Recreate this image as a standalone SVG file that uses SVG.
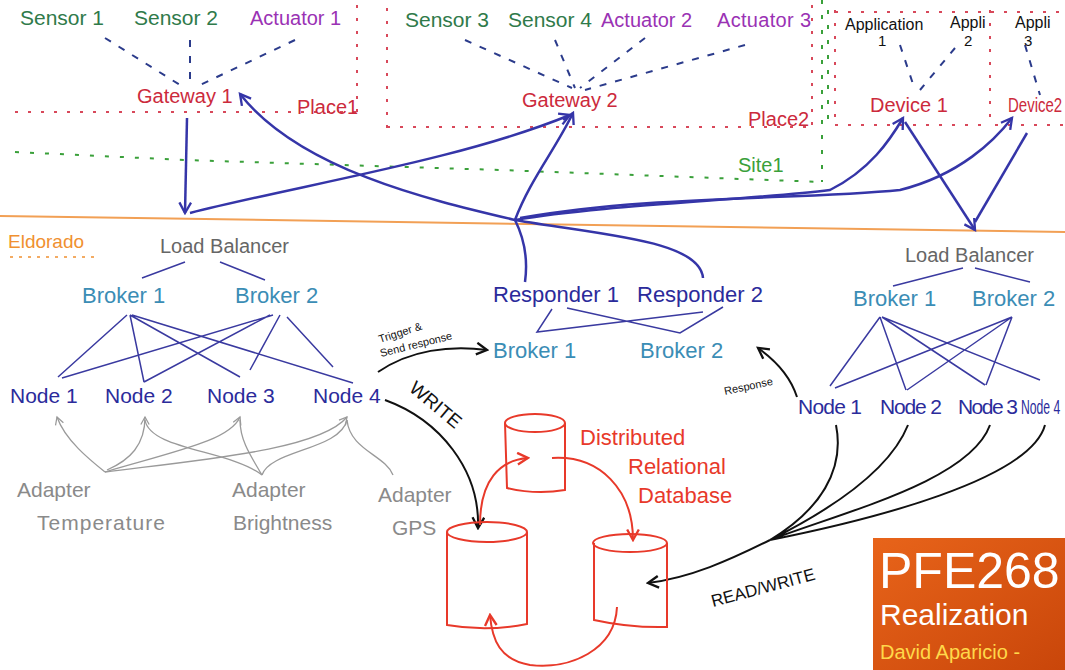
<svg xmlns="http://www.w3.org/2000/svg" width="1065" height="670" viewBox="0 0 1065 670">
<defs>
<style>
text{font-family:"Liberation Sans","DejaVu Sans",sans-serif}
.sensor{fill:#2f7a4a;font-size:21px}
.act{fill:#9a32b4;font-size:20px}
.gw{fill:#cc2a3c;font-size:20px}
.node{fill:#2b2b9b;font-size:21px}
.broker{fill:#3b8db5;font-size:22px}
.lb{fill:#666;font-size:20px}
.adp{fill:#8a8a8a;font-size:21px}
.db{fill:#e8392a;font-size:22px}
.blk{fill:#111}
.dr{stroke:#d8485a;stroke-width:2;stroke-dasharray:3 10;fill:none}
.dg{stroke:#3aa03a;stroke-width:2;stroke-dasharray:4 11;fill:none}
.db2{stroke:#2b3b8b;stroke-width:2;stroke-dasharray:7 9;fill:none}
.thin{stroke:#3a3aa0;stroke-width:1.5;fill:none}
.ba{stroke:#3535a8;stroke-width:2.5;fill:none}
.ka{stroke:#111;stroke-width:2;fill:none}
.ra{stroke:#e8392a;stroke-width:2;fill:none}
.ga{stroke:#9a9a9a;stroke-width:1.3;fill:none}
</style>
<marker id="mb" viewBox="0 0 12 12" refX="10" refY="6" markerWidth="14" markerHeight="14" markerUnits="userSpaceOnUse" orient="auto"><path d="M1,1 L10,6 L1,11" fill="none" stroke="#3535a8" stroke-width="2"/></marker>
<marker id="mk" viewBox="0 0 12 12" refX="10" refY="6" markerWidth="14" markerHeight="14" markerUnits="userSpaceOnUse" orient="auto"><path d="M1,1 L10,6 L1,11" fill="none" stroke="#111" stroke-width="2"/></marker>
<marker id="mr" viewBox="0 0 12 12" refX="10" refY="6" markerWidth="14" markerHeight="14" markerUnits="userSpaceOnUse" orient="auto"><path d="M1,1 L10,6 L1,11" fill="none" stroke="#e8392a" stroke-width="2"/></marker>
<marker id="mg" viewBox="0 0 12 12" refX="10" refY="6" markerWidth="10" markerHeight="10" markerUnits="userSpaceOnUse" orient="auto"><path d="M1,1 L10,6 L1,11" fill="none" stroke="#9a9a9a" stroke-width="1.5"/></marker>
<linearGradient id="og" x1="0" y1="0" x2="1" y2="1"><stop offset="0" stop-color="#e8641a"/><stop offset="1" stop-color="#c9460a"/></linearGradient>
</defs>
<rect width="1065" height="670" fill="#fff"/>

<g id="zones">
<path class="dr" d="M357,5 L357,115 M15,112 L357,112"/>
<path class="dr" d="M387,8 L387,128 M387,127 L812,127 M812,5 L812,127"/>
<path class="dg" d="M15,152 L185,160 L500,170 L822,182 M822,0 L822,182"/>
<path class="dr" d="M835,10 L835,125 M835,12 L1065,12 M835,125 L985,125 M990,10 L990,125 M995,125 L1065,125"/>
<path class="dg" d="M828,10 L828,120"/>
<path d="M0,216 L1065,232" stroke="#f2a055" stroke-width="2" fill="none"/>
<text x="8" y="248" fill="#f09030" font-size="19">Eldorado</text>
<path d="M10,257 L95,257" stroke="#f09030" stroke-width="1.5" stroke-dasharray="3 6"/>
<text x="297" y="114" class="gw" font-size="14">Place1</text>
<text x="748" y="126" class="gw" font-size="16">Place2</text>
<text x="738" y="172" fill="#3aa03a" font-size="20">Site1</text>
</g>

<g id="connectors">
<path class="db2" d="M105,38 L180,85 M190,40 L190,88 M295,40 L200,85"/>
<path class="db2" d="M465,40 L572,88 M555,40 L575,88 M645,38 L580,88 M745,45 L585,90"/>
<path class="db2" d="M900,45 L915,90 M955,48 L920,90 M1025,45 L1040,95"/>
<path class="ba" d="M187,118 L185,213" marker-end="url(#mb)"/>
<path class="ba" d="M190,213 C300,185 460,160 570,115" marker-end="url(#mb)"/>
<path class="ba" d="M515,220 C430,200 300,170 240,94" marker-end="url(#mb)"/>
<path class="ba" d="M515,220 C530,180 555,150 573,113" marker-end="url(#mb)"/>
<path class="ba" d="M515,220 C600,205 750,200 830,190 C870,170 890,140 903,118" marker-end="url(#mb)"/>
<path class="ba" d="M520,218 C650,195 800,200 900,190 C960,175 995,140 1012,118" marker-end="url(#mb)"/>
<path class="ba" d="M515,220 C525,240 528,260 525,282"/>
<path class="ba" d="M515,220 C600,235 700,240 703,278"/>
<path class="thin" d="M185,262 L142,278 M220,262 L265,280"/>
<path class="thin" d="M127,315 L58,377 M130,315 L144,382 M130,315 L240,377 M132,315 L353,383 M273,315 L62,378 M270,315 L144,382 M280,315 L250,370 M287,317 L333,367"/>
<path class="thin" d="M552,309 L537,332 L703,312 M567,308 L680,333 L723,307"/>
<path class="ka" d="M378,372 C410,350 450,345 487,350" marker-end="url(#mk)"/>
<path class="ka" stroke-width="3" d="M385,400 C440,420 480,470 478,528" marker-end="url(#mk)"/>
<path class="ka" d="M797,397 C790,375 775,360 758,348" marker-end="url(#mk)"/>
<path class="ba" stroke-width="2" d="M905,122 L975,230" marker-end="url(#mb)"/>
<path class="ba" stroke-width="1.5" d="M1027,133 L975,222"/>
<path class="thin" d="M963,268 L893,286 M975,268 L1030,282"/>
<path class="thin" d="M880,317 L830,386 M880,317 L906,390 M882,317 L985,385 M882,317 L1040,380 M1012,317 L835,388 M1012,317 L907,390 M1012,317 L986,385"/>
<path class="ka" stroke-width="1.6" d="M836,425 C845,470 820,510 770,540 M908,425 C890,470 830,510 770,540 M990,425 C970,480 850,510 770,540 M1045,425 C1030,480 870,520 770,540"/>
<path class="ka" d="M770,540 C730,560 690,578 648,583" marker-end="url(#mk)"/>
<path class="ra" d="M480,525 C480,480 500,460 528,458" marker-end="url(#mr)"/>
<path class="ra" d="M552,458 C600,455 633,490 633,540" marker-end="url(#mr)"/>
<path class="ra" d="M617,607 C615,650 570,670 530,665 C500,660 492,640 490,615" marker-end="url(#mr)"/>
<path class="ga" d="M105,472 C90,460 65,440 57,417" marker-end="url(#mg)"/>
<path class="ga" d="M107,470 C130,460 145,445 145,417" marker-end="url(#mg)"/>
<path class="ga" d="M105,472 C180,450 230,440 240,417" marker-end="url(#mg)"/>
<path class="ga" d="M105,472 C200,460 320,450 347,417" marker-end="url(#mg)"/>
<path class="ga" d="M262,475 C230,450 150,450 145,420"/>
<path class="ga" d="M262,475 C250,455 240,440 240,420"/>
<path class="ga" d="M262,475 C270,450 340,450 347,420"/>
<path class="ga" d="M393,475 C385,455 350,450 347,420"/>
</g>

<g id="sensor1"><text x="20" y="25" class="sensor">Sensor 1</text></g>
<g id="sensor2"><text x="134" y="25" class="sensor">Sensor 2</text></g>
<g id="actuator1"><text x="250" y="25" class="act">Actuator 1</text></g>
<g id="gateway1"><text x="137" y="103" class="gw">Gateway 1</text></g>
<g id="sensor3"><text x="405" y="27" class="sensor" font-size="20">Sensor 3</text></g>
<g id="sensor4"><text x="508" y="27" class="sensor" font-size="20">Sensor 4</text></g>
<g id="actuator2"><text x="601" y="27" class="act">Actuator 2</text></g>
<g id="actuator3"><text x="717" y="27" class="act" textLength="94">Actuator 3</text></g>
<g id="gateway2"><text x="522" y="107" class="gw">Gateway 2</text></g>
<g id="app1"><text x="845" y="30" class="blk" font-size="16">Application</text><text x="878" y="46" class="blk" font-size="15">1</text></g>
<g id="app2"><text x="950" y="28" class="blk" font-size="16">Appli</text><text x="964" y="46" class="blk" font-size="15">2</text></g>
<g id="app3"><text x="1015" y="28" class="blk" font-size="16">Appli</text><text x="1024" y="46" class="blk" font-size="15">3</text></g>
<g id="device1"><text x="870" y="112" class="gw" font-size="21">Device 1</text></g>
<g id="device2"><text class="gw" font-size="18" transform="translate(1008,112) scale(0.75,1)">Device2</text></g>

<g id="lb-left"><text x="160" y="253" class="lb">Load Balancer</text></g>
<g id="broker1-left"><text x="82" y="303" class="broker">Broker 1</text></g>
<g id="broker2-left"><text x="235" y="303" class="broker">Broker 2</text></g>
<g id="node1-left"><text x="10" y="403" class="node">Node 1</text></g>
<g id="node2-left"><text x="105" y="403" class="node">Node 2</text></g>
<g id="node3-left"><text x="207" y="403" class="node">Node 3</text></g>
<g id="node4-left"><text x="313" y="403" class="node">Node 4</text></g>
<g id="adapter-temp"><text x="17" y="497" class="adp">Adapter</text><text x="37" y="530" class="adp" textLength="128">Temperature</text></g>
<g id="adapter-bright"><text x="232" y="497" class="adp">Adapter</text><text x="233" y="530" class="adp">Brightness</text></g>
<g id="adapter-gps"><text x="378" y="502" class="adp" font-size="18">Adapter</text><text x="392" y="535" class="adp" font-size="18">GPS</text></g>

<g id="responder1"><text x="493" y="302" fill="#2b2b9b" font-size="22">Responder 1</text></g>
<g id="responder2"><text x="637" y="302" fill="#2b2b9b" font-size="22">Responder 2</text></g>
<g id="broker1-mid"><text x="493" y="358" class="broker">Broker 1</text></g>
<g id="broker2-mid"><text x="640" y="358" class="broker">Broker 2</text></g>
<g id="labels">
<text x="380" y="343" class="blk" font-size="11" transform="rotate(-18 380 343)">Trigger &amp;</text>
<text x="381" y="357" class="blk" font-size="11" transform="rotate(-14 381 357)">Send response</text>
<text x="408" y="390" class="blk" font-size="19" transform="rotate(40 408 390)">WRITE</text>
<text x="725" y="395" class="blk" font-size="11" transform="rotate(-12 725 395)">Response</text>
<text x="713" y="607" class="blk" font-size="17" transform="rotate(-15 713 607)">READ/WRITE</text>
</g>

<g id="lb-right"><text x="905" y="262" class="lb">Load Balancer</text></g>
<g id="broker1-right"><text x="853" y="306" class="broker" font-size="20">Broker 1</text></g>
<g id="broker2-right"><text x="972" y="306" class="broker" font-size="20">Broker 2</text></g>
<g id="node1-right"><text x="798" y="414" class="node" font-size="19" textLength="64">Node 1</text></g>
<g id="node2-right"><text x="880" y="414" class="node" font-size="19" textLength="62">Node 2</text></g>
<g id="node3-right"><text x="958" y="414" class="node" font-size="19" textLength="60">Node 3</text></g>
<g id="node4-right"><text class="node" font-size="18" transform="translate(1021,414) scale(0.58,1)">Node 4</text></g>

<g id="database" fill="none" stroke="#e8392a" stroke-width="2">
<ellipse cx="535" cy="423" rx="30" ry="9"/>
<path d="M505,423 L507,488 Q536,495 565,490 L565,423"/>
<ellipse cx="487" cy="532" rx="40" ry="10"/>
<path d="M447,532 L447,625 Q487,632 527,624 L527,532"/>
<ellipse cx="630" cy="543" rx="37" ry="9"/>
<path d="M594,543 L594,620 Q630,628 667,627 L667,543"/>
<text x="580" y="445" class="db" stroke="none">Distributed</text>
<text x="628" y="474" class="db" stroke="none">Relational</text>
<text x="638" y="503" class="db" stroke="none">Database</text>
</g>

<g id="title">
<rect x="873" y="538" width="192" height="132" fill="url(#og)"/>
<text x="879" y="588" fill="#fff" font-size="50">PFE268</text>
<text x="880" y="625" fill="#fff" font-size="30">Realization</text>
<text x="880" y="659" fill="#ffd84a" font-size="20">David Aparicio -</text>
</g>
</svg>
